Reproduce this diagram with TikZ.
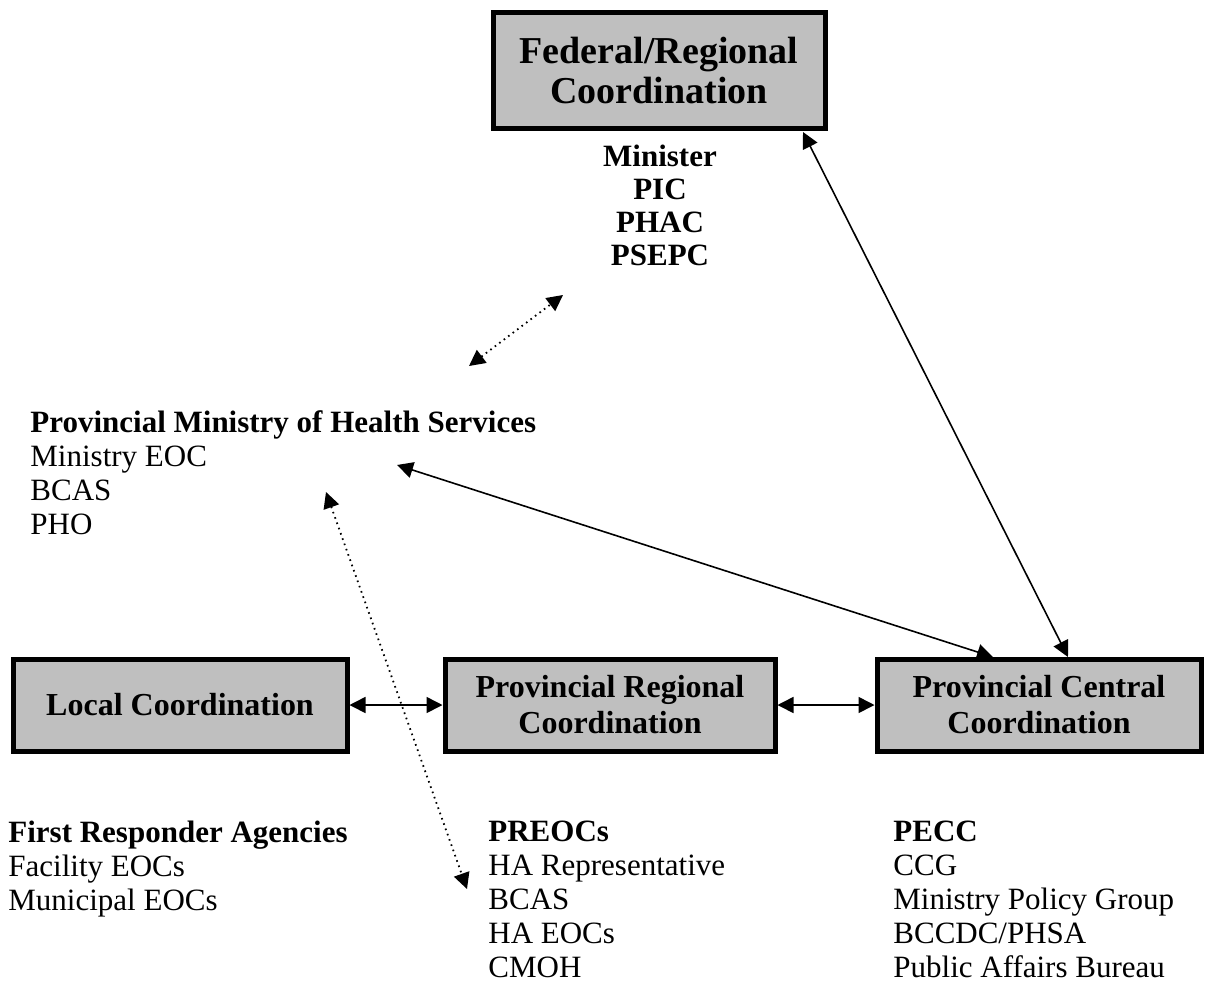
\documentclass[tikz,border=0pt]{standalone}
\usepackage{fontspec}
\setmainfont{Liberation Serif}
\usetikzlibrary{arrows.meta}
\tikzset{
  coord/.style={draw, line width=2.5pt, fill=black!25, align=center, font=\bfseries\fontsize{16}{18}\selectfont},
  list/.style={align=left, anchor=north west, inner sep=0pt, font=\fontsize{15.5}{17}\selectfont},
  link/.style={line width=0.8pt, {Triangle[length=8pt,width=8pt]}-{Triangle[length=8pt,width=8pt]}},
  dlink/.style={link, dotted, line width=0.9pt}
}
\begin{document}
\begin{tikzpicture}[x=0.5pt,y=-0.5pt]
  \useasboundingbox (0,0) rectangle (1207,987);

  % Coordination boxes
  \node[coord, minimum width=166pt, minimum height=58pt, font=\bfseries\fontsize{19}{20}\selectfont] (fed) at (659,70) {Federal/Regional\\Coordination};
  \node[coord, minimum width=167pt, minimum height=46pt] (local) at (180,705) {Local Coordination};
  \node[coord, minimum width=165pt, minimum height=46pt] (region) at (610,705) {Provincial Regional\\Coordination};
  \node[coord, minimum width=162pt, minimum height=46pt] (central) at (1039,705) {Provincial Central\\Coordination};

  % Text blocks
  \node[list, align=center, anchor=north, font=\bfseries\fontsize{15.5}{16.5}\selectfont] (fedlist) at (660,145) {Minister\\PIC\\PHAC\\PSEPC};
  \node[list] (health) at (30,410) {\textbf{Provincial Ministry of Health Services}\\Ministry EOC\\BCAS\\PHO};
  \node[list] (first) at (8,821) {\textbf{First Responder Agencies}\\Facility EOCs\\Municipal EOCs};
  \node[list] (preocs) at (488,821) {\textbf{PREOCs}\\HA Representative\\BCAS\\HA EOCs\\CMOH};
  \node[list] (pecc) at (893,821) {\textbf{PECC}\\CCG\\Ministry Policy Group\\BCCDC/PHSA\\Public Affairs Bureau};

  % Free ends
  \coordinate (fedA) at (563,295);
  \coordinate (healthA) at (469,366);
  \coordinate (healthB) at (397,465);
  \coordinate (healthC) at (326,492);
  \coordinate (preocsA) at (467,889);
  \coordinate (fedB) at (803,132);
  \coordinate (centralA) at (993,657);
  \coordinate (centralB) at (1068,657);

  % Connectors
  \draw[dlink] (healthA) -- (fedA);
  \draw[dlink] (healthC) -- (preocsA);
  \draw[link] (healthB) -- (centralA);
  \draw[link] (fedB) -- (centralB);
  \draw[link] (local) -- (region);
  \draw[link] (region) -- (central);
\end{tikzpicture}
\end{document}
